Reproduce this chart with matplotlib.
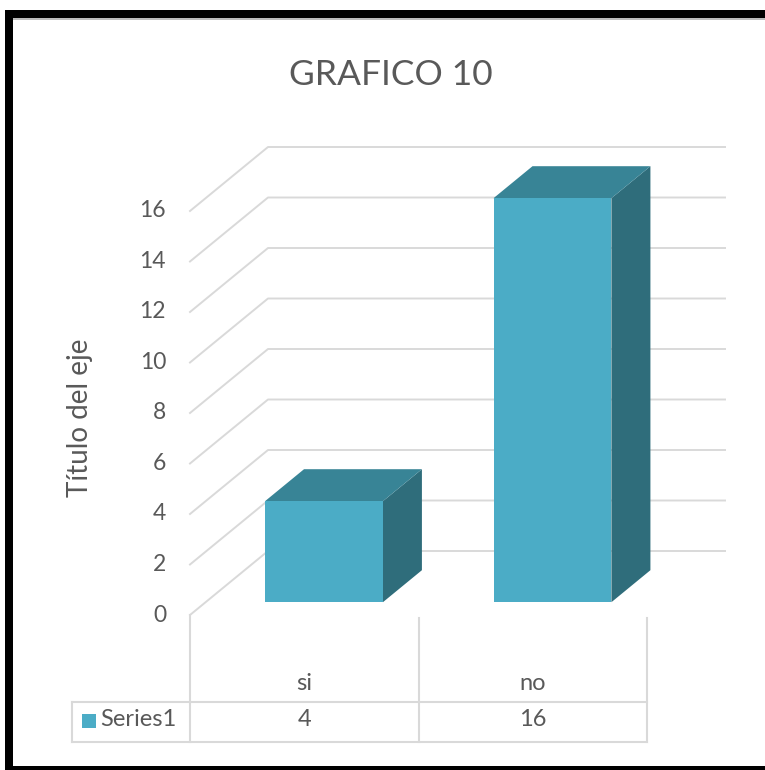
import matplotlib
matplotlib.use("Agg")
import matplotlib.pyplot as plt
from matplotlib.patches import Polygon, Rectangle
from matplotlib.lines import Line2D

# ---- data ----
categories = ["si", "no"]
values = [4, 16]
series_name = "Series1"
yticks = [0, 2, 4, 6, 8, 10, 12, 14, 16]
title = "GRAFICO 10"
ylabel = "Título del eje"

plt.rcParams['font.family'] = ['Lato', 'DejaVu Sans']
TXT = '#595959'
GRID = '#D9D9D9'
FRONT = '#4BACC6'
TOP = '#388496'
SIDE = '#2F6D7B'

W, H = 765, 770
fig = plt.figure(figsize=(W / 100, H / 100), dpi=100)
ax = fig.add_axes([0, 0, 1, 1])

# pixel <-> data mapping (category units horizontally, value units vertically)
x0_px, cat_px, y0_px, unit_px = 190.0, 228.5, 615.0, 25.25
def xd(px):
    return (px - x0_px) / cat_px - 0.5
def yd(py):
    return (y0_px - py) / unit_px
ax.set_xlim(xd(0), xd(W))
ax.set_ylim(yd(H), yd(0))
ax.axis('off')

DX = 78 / cat_px
DY = 64 / unit_px
def P(x, v, d):
    return (x + d * DX, v + d * DY)

n = len(categories)
xl_w, xr_w = -0.5, n - 0.5

# walls gridlines
for v in yticks:
    pts = [P(xl_w, v, 0), P(xl_w, v, 1), P(xr_w, v, 1)]
    ax.add_line(Line2D([p[0] for p in pts], [p[1] for p in pts], color=GRID, lw=1.4, zorder=1))

# bars
bw = 0.516
shift = 0.018
d0, d1 = 0.2, 0.7
for i, v in enumerate(values):
    xl, xr = i + shift - bw / 2, i + shift + bw / 2
    side = [P(xr, 0, d0), P(xr, 0, d1), P(xr, v, d1), P(xr, v, d0)]
    top = [P(xl, v, d0), P(xr, v, d0), P(xr, v, d1), P(xl, v, d1)]
    front = [P(xl, 0, d0), P(xr, 0, d0), P(xr, v, d0), P(xl, v, d0)]
    ax.add_patch(Polygon(side, closed=True, fc=SIDE, ec='none', zorder=3))
    ax.add_patch(Polygon(top, closed=True, fc=TOP, ec='none', zorder=3))
    ax.add_patch(Polygon(front, closed=True, fc=FRONT, ec='none', zorder=4))

# y tick labels
for v in yticks:
    ax.text(xl_w - 24 / cat_px, v, str(v), ha='right', va='center', fontsize=16.5, color=TXT)

# data table
tab_top, tab_mid, tab_bot = yd(618), yd(702), yd(742)
tab_left = xd(72)
for k in range(n + 1):
    x = xl_w + k
    ax.add_line(Line2D([x, x], [tab_top if k > 0 else yd(615), tab_bot], color=GRID, lw=1.5, zorder=1))
ax.add_line(Line2D([tab_left, xr_w], [tab_mid, tab_mid], color=GRID, lw=1.5))
ax.add_line(Line2D([tab_left, xr_w], [tab_bot, tab_bot], color=GRID, lw=1.5))
ax.add_line(Line2D([tab_left, tab_left], [tab_mid, tab_bot], color=GRID, lw=1.5))
for i, (c, v) in enumerate(zip(categories, values)):
    ax.text(i, yd(684), c, ha='center', va='center', fontsize=17, color=TXT)
    ax.text(i, yd(720), str(v), ha='center', va='center', fontsize=17, color=TXT)
ax.add_patch(Rectangle((xd(82), yd(728)), xd(96) - xd(82), yd(714) - yd(728), fc=FRONT, ec='none'))
ax.text(xd(100), yd(720), series_name, ha='left', va='center', fontsize=17, color=TXT)

# title and axis label
ax.text(xd(391), yd(75), title, ha='center', va='center', fontsize=25.5, color=TXT)
ax.text(xd(80), yd(418), ylabel, ha='center', va='center', rotation=90, fontsize=20, color=TXT)

# black frame
def frect(x, y, w, h, c='black'):
    fig.add_artist(Rectangle((x / W, 1 - (y + h) / H), w / W, h / H, fc=c, ec='none',
                             transform=fig.transFigure))
frect(5, 10, W, 8)
frect(5, 10, 8, H)
frect(5, 766, W, 8)
frect(13, 18, W, 2, '#BBBBBB')

fig.savefig('out.png', dpi=100)
